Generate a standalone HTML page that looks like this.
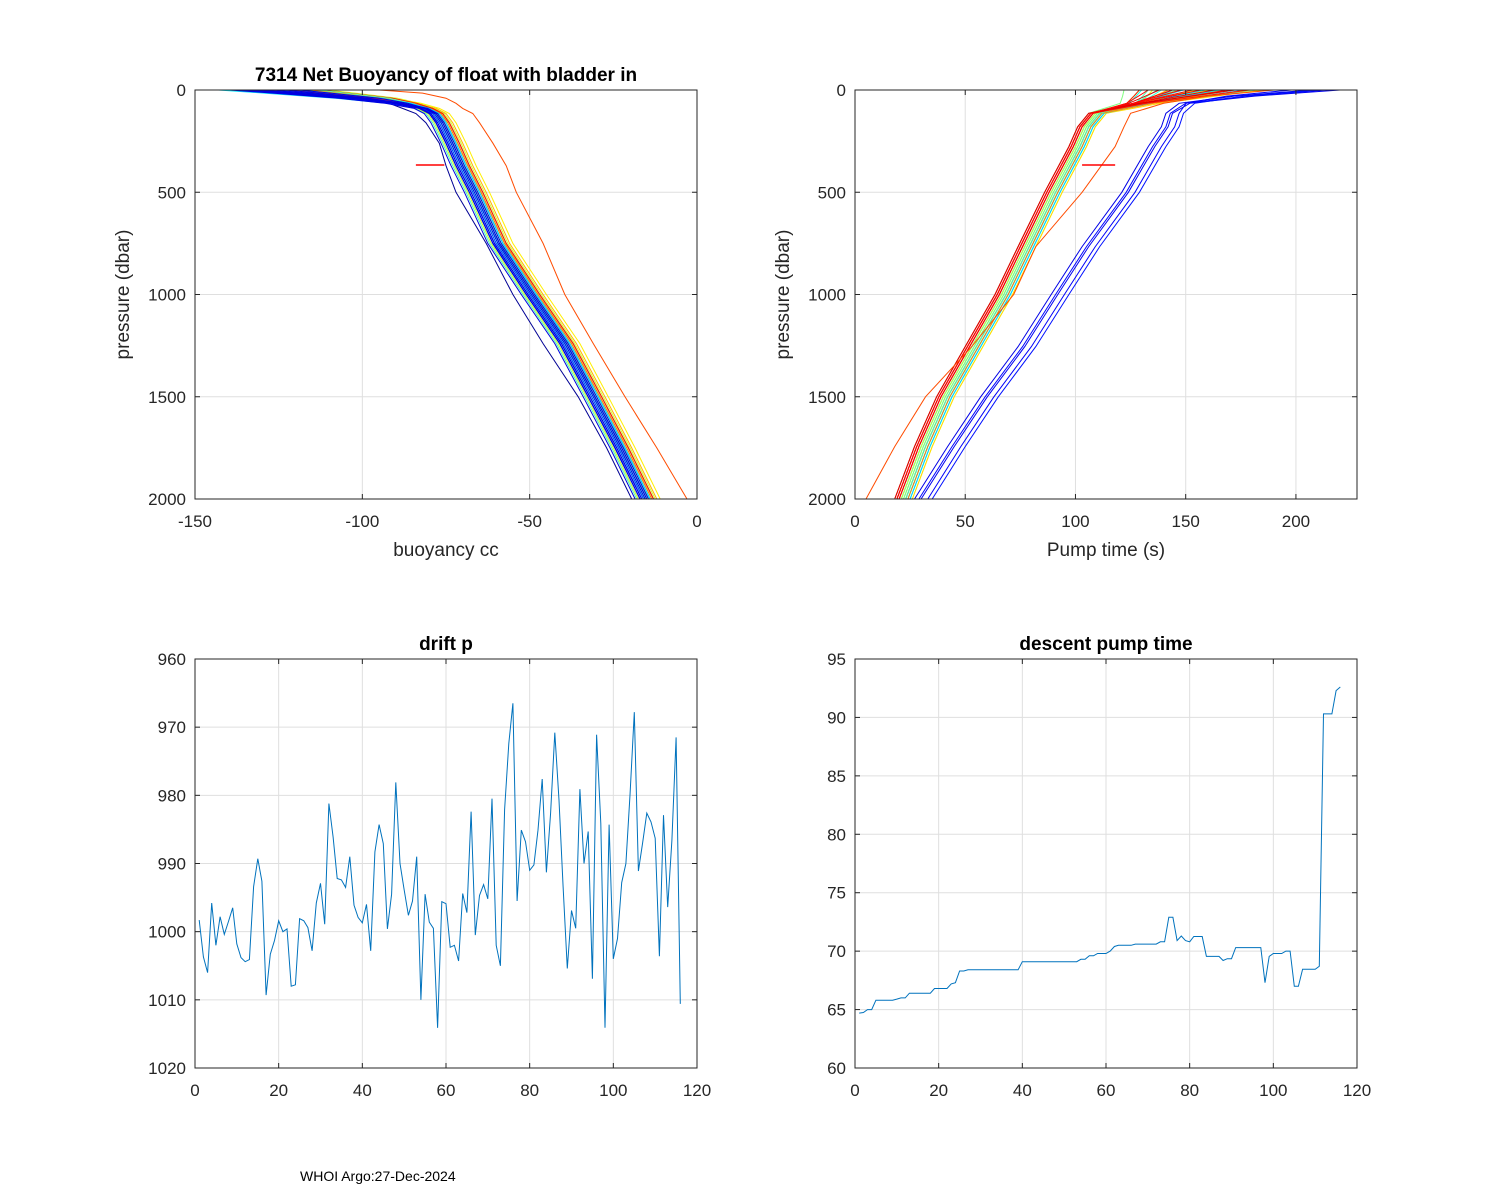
<!DOCTYPE html>
<html><head><meta charset="utf-8"><style>
html,body{margin:0;padding:0;background:#fff;}
svg{display:block;font-family:"Liberation Sans",Arial,sans-serif;}
</style></head><body>
<svg id="fig" width="1500" height="1200" viewBox="0 0 1500 1200">
<rect x="0" y="0" width="1500" height="1200" fill="#fff"/>
</svg>
<script>
// ---------- data: drift p ----------
const driftCycles = Array.from({length:116},(_, i)=>i+1);
const driftP = [998.3,1003.7,1006.0,995.8,1002,997.8,1000.4,998.5,996.5,1001.8,1003.8,1004.4,1004.1,993.4,989.3,992.6,1009.3,1003.3,1001.3,998.4,1000,999.6,1008,1007.8,998.1,998.4,999.4,1002.8,995.8,992.9,998.9,981.2,986.1,992.2,992.4,993.5,989,996.1,997.9,998.7,996,1002.8,988.3,984.3,987.1,999.6,994.5,978.1,990,993.9,997.6,995.5,989,1010,994.5,998.6,999.5,1014.1,995.6,995.9,1002.3,1002,1004.3,994.4,997.2,982.4,1000.5,994.7,993.1,995.2,980.5,1002,1005,982.1,972.4,966.5,995.5,985.1,986.8,991,990.2,985.1,977.6,991.3,982.6,970.8,980.7,993.4,1005.4,996.9,999.5,979.1,990,985.3,1006.9,971.1,984.1,1014.1,984.3,1004,1001,992.8,990,979.7,967.8,991.1,987,982.6,983.9,986.3,1003.6,982.9,996.4,986.6,971.5,1010.6];
// ---------- data: descent pump time ----------
const pumpTime = [64.7,64.75,65,65,65.8,65.8,65.8,65.8,65.8,65.9,66,66,66.4,66.4,66.4,66.4,66.4,66.4,66.8,66.8,66.8,66.8,67.2,67.3,68.3,68.3,68.4,68.4,68.4,68.4,68.4,68.4,68.4,68.4,68.4,68.4,68.4,68.4,68.4,69.1,69.1,69.1,69.1,69.1,69.1,69.1,69.1,69.1,69.1,69.1,69.1,69.1,69.1,69.3,69.3,69.6,69.6,69.8,69.8,69.8,70,70.4,70.5,70.5,70.5,70.5,70.6,70.6,70.6,70.6,70.6,70.6,70.8,70.8,72.9,72.9,70.9,71.3,70.9,70.8,71.25,71.25,71.25,69.55,69.55,69.55,69.55,69.2,69.35,69.35,70.3,70.3,70.3,70.3,70.3,70.3,70.3,67.3,69.55,69.8,69.8,69.8,70,70,67,67,68.45,68.45,68.45,68.45,68.7,90.3,90.3,90.3,92.3,92.6];
// ---------- data: buoyancy profiles ----------
const profP = [0,15,40,65,90,115,160,260,370,500,750,1000,1240,1500,1750,2000];
const buoyBase = [-112,-104,-92,-86,-82,-79,-77,-74,-71,-67,-60,-50,-40,-31.5,-23.5,-16];
const buoyNavy = [-130,-118,-100,-92,-88,-84,-81,-77,-75,-72,-63,-55,-46,-35.5,-27,-19.5];
const buoyOrange = [-95,-82,-75,-72,-70,-67,-65,-61,-57,-54,-46,-39.5,-31,-21.5,-12,-3];
const buoyOffset = [0,-1.5,-2,-1,-0.5,0,0.5,-1,1,1.5,-0.5,0,2,1,-1.5,0.5,2.5,1.5,0,-1,3,2,1,0.5,2.5,3,1.5,4,2,3.5,5,2,3,1,1.5,2.5,0,3,1.5,2];
const buoySurf = [-20,-25,-10,-30,-5,-15,-22,0,-28,-12,-8,-18,-3,-26,-14,-6,-20,-10,-2,-24,-16,-8,-12,-4,-18,-6,-22,-10,-14,-2,-8,-16,-4,-12,-20,-6,-10,-14,-3,-9];
const buoyColor = [0.05,0.3,0.45,0.35,0.2,0.5,0.4,0.25,0.55,0.32,0.15,0.48,0.38,0.28,0.6,0.42,0.22,0.52,0.36,0.12,0.62,0.46,0.3,0.4,0.66,0.34,0.5,0.7,0.44,0.58,0.64,0.26,0.88,0.38,0.54,0.75,0.18,0.85,0.47,0.33];
// ---------- data: pump time profiles ----------
const pumpP = [0,30,65,114,180,277,500,766,1000,1255,1500,1744,2000];
const pumpBase = [150,140,128,109,104,100,89,77,66.5,53,40,30,21];
const pumpBlue = [210,175,150,144,142,136,124,106,92,77,60,45,30];
const pumpOrange = [190,160,140,125,122,118,103,82,72,53,32,18,5];
const pumpOffset = [0,3,-2,2,-3,0,4,1,-1,5,2,3,0,1,4,2,-1,3,5,2,1,3,0,2,4,1,3,2,0,-1,-2,-1,-2,-3,-1,-2,-2,-1,-3,-2];
const pumpSurf = [10,-20,25,5,-25,15,-10,30,0,-20,20,-5,35,10,-15,25,-20,5,30,-10,15,0,-20,20,10,-5,25,-15,5,30,0,20,-10,10,-20,15,5,-5,25,-15];
const pumpColor = [0.3,0.45,0.35,0.2,0.5,0.4,0.25,0.55,0.32,0.6,0.48,0.38,0.28,0.62,0.42,0.22,0.52,0.36,0.66,0.7,0.46,0.3,0.4,0.72,0.34,0.5,0.74,0.44,0.58,0.85,0.88,0.86,0.9,0.87,0.84,0.89,0.86,0.88,0.91,0.87];
const pumpBlueOffset = [0,3,6,2,8];
const pumpBlueSurf = [0,10,-15,5,-5];

const NS="http://www.w3.org/2000/svg";
const svg=document.getElementById('fig');
function el(tag,attrs,parent){const e=document.createElementNS(NS,tag);for(const k in attrs)e.setAttribute(k,attrs[k]);(parent||svg).appendChild(e);return e;}
function jet(t){
  function c(x){return Math.max(0,Math.min(1,x));}
  const r=c(1.5-Math.abs(4*t-3)),g=c(1.5-Math.abs(4*t-2)),b=c(1.5-Math.abs(4*t-1));
  return `rgb(${Math.round(r*255)},${Math.round(g*255)},${Math.round(b*255)})`;
}
function makeAxes(o){
  const g=el('g',{});
  
  
  const sx=v=>o.x0+(v-o.xmin)/(o.xmax-o.xmin)*(o.x1-o.x0);
  const sy=o.yrev?(v=>o.y0+(v-o.ymin)/(o.ymax-o.ymin)*(o.y1-o.y0)):(v=>o.y1-(v-o.ymin)/(o.ymax-o.ymin)*(o.y1-o.y0));
  const grid=el('g',{stroke:'#dfdfdf','stroke-width':1},g);
  
  
  o.xticks.forEach(t=>{const x=sx(t);el('line',{x1:x,x2:x,y1:o.y0,y2:o.y1},grid);});
  o.yticks.forEach(t=>{const y=sy(t);el('line',{x1:o.x0,x2:o.x1,y1:y,y2:y},grid);});
  return {g,sx,sy};
}
function finishAxes(o,ax){
  const g=ax.g;
  const fr=el('g',{stroke:'#262626','stroke-width':1,fill:'none'},g);
  
  
  el('rect',{x:o.x0,y:o.y0,width:o.x1-o.x0,height:o.y1-o.y0},fr);
  o.xticks.forEach(t=>{const x=ax.sx(t);el('line',{x1:x,x2:x,y1:o.y1,y2:o.y1-5},fr);el('line',{x1:x,x2:x,y1:o.y0,y2:o.y0+5},fr);
    const tx=el('text',{x:x,y:o.y1+28,'text-anchor':'middle','font-size':17,fill:'#262626',stroke:'none'},g);tx.textContent=t;
    });
  o.yticks.forEach(t=>{const y=ax.sy(t);el('line',{x1:o.x0,x2:o.x0+5,y1:y,y2:y},fr);el('line',{x1:o.x1,x2:o.x1-5,y1:y,y2:y},fr);
    const tx=el('text',{x:o.x0-9,y:y+6,'text-anchor':'end','font-size':17,fill:'#262626',stroke:'none'},g);tx.textContent=t;
    });
  if(o.title){const t=el('text',{x:(o.x0+o.x1)/2,y:o.y0-9,'text-anchor':'middle','font-size':19,'font-weight':'bold',fill:'#000'},g);t.textContent=o.title;
    }
  if(o.xlabel){const t=el('text',{x:(o.x0+o.x1)/2,y:o.y1+57,'text-anchor':'middle','font-size':19,fill:'#262626'},g);t.textContent=o.xlabel;
    }
  if(o.ylabel){const cx=o.x0-66,cy=(o.y0+o.y1)/2;const t=el('text',{x:cx,y:cy,'text-anchor':'middle','font-size':19,fill:'#262626',transform:`rotate(-90 ${cx} ${cy})`},g);t.textContent=o.ylabel;
    }
}
function surfW(p){return p>=80?0:(1-p/80);}
function drawProfile(ax,parent,P,X,off,surf,color,name,clipId){
  const pts=P.map((p,i)=>`${ax.sx(X[i]+off+surf*surfW(p)).toFixed(1)},${ax.sy(p).toFixed(1)}`).join(' ');
  const pl=el('polyline',{points:pts,fill:'none',stroke:color,'stroke-width':1,'clip-path':`url(#${clipId})`},parent);
  
  
}
const defs=el('defs',{});
function clip(id,x0,y0,x1,y1){const c=el('clipPath',{id},defs);el('rect',{x:x0,y:y0,width:x1-x0,height:y1-y0},c);}

// ---- Top-left: buoyancy ----
const o1={name:'buoyancy-chart',x0:195,x1:697,y0:90,y1:499,xmin:-150,xmax:0,ymin:0,ymax:2000,yrev:true,
  xticks:[-150,-100,-50,0],yticks:[0,500,1000,1500,2000],title:'7314 Net Buoyancy of float with bladder in',xlabel:'buoyancy cc',ylabel:'pressure (dbar)'};
const a1=makeAxes(o1);clip('c1',195,90,697,499);
const l1=el('g',{},a1.g);


const nB=buoyOffset.length;
for(let i=0;i<nB;i++){
  if(i===0){drawProfile(a1,l1,profP,buoyNavy,0,0,jet(0.02),'profile-line','c1');continue;}
  drawProfile(a1,l1,profP,buoyBase,buoyOffset[i],buoySurf[i],jet(buoyColor[i]),'profile-line','c1');
}
drawProfile(a1,l1,profP,buoyOrange,0,0,jet(0.8),'outlier-profile','c1');
for(let i=1;i<nB;i+=5){drawProfile(a1,l1,profP,buoyBase,buoyOffset[i]-1,buoySurf[i],'#0000e0','profile-line','c1');}
{const m=el('line',{x1:a1.sx(-84),x2:a1.sx(-75.5),y1:a1.sy(367),y2:a1.sy(367),stroke:'#ff0000','stroke-width':1.5},l1);
 }
finishAxes(o1,a1);

// ---- Top-right: pump time ----
const o2={name:'pump-time-chart',x0:855,x1:1357,y0:90,y1:499,xmin:0,xmax:227.7,ymin:0,ymax:2000,yrev:true,
  xticks:[0,50,100,150,200],yticks:[0,500,1000,1500,2000],xlabel:'Pump time (s)',ylabel:'pressure (dbar)'};
const a2=makeAxes(o2);clip('c2',855,90,1357,499);
const l2=el('g',{},a2.g);


for(let i=0;i<pumpBlueOffset.length;i++){drawProfile(a2,l2,pumpP,pumpBlue,pumpBlueOffset[i]-3,pumpBlueSurf[i],jet(0.1+i*0.01),'early-profile','c2');}
const nP=pumpOffset.length;
for(let i=0;i<nP;i++){drawProfile(a2,l2,pumpP,pumpBase,pumpOffset[i],pumpSurf[i],jet(pumpColor[i]),'profile-line','c2');}
drawProfile(a2,l2,pumpP,pumpOrange,0,0,jet(0.8),'outlier-profile','c2');
{const m=el('line',{x1:a2.sx(103),x2:a2.sx(118),y1:a2.sy(367),y2:a2.sy(367),stroke:'#ff0000','stroke-width':1.5},l2);
 }
finishAxes(o2,a2);

// ---- Bottom-left: drift p ----
const o3={name:'drift-p-chart',x0:195,x1:697,y0:659,y1:1068,xmin:0,xmax:120,ymin:960,ymax:1020,yrev:true,
  xticks:[0,20,40,60,80,100,120],yticks:[960,970,980,990,1000,1010,1020],title:'drift p'};
const a3=makeAxes(o3);
{const pl=el('polyline',{points:driftP.map((v,i)=>`${a3.sx(driftCycles[i]).toFixed(1)},${a3.sy(v).toFixed(1)}`).join(' '),fill:'none',stroke:'#0072bd','stroke-width':1},a3.g);
 }
finishAxes(o3,a3);

// ---- Bottom-right: descent pump time ----
const o4={name:'descent-pump-chart',x0:855,x1:1357,y0:659,y1:1068,xmin:0,xmax:120,ymin:60,ymax:95,yrev:false,
  xticks:[0,20,40,60,80,100,120],yticks:[60,65,70,75,80,85,90,95],title:'descent pump time'};
const a4=makeAxes(o4);
{const pl=el('polyline',{points:pumpTime.map((v,i)=>`${a4.sx(driftCycles[i]).toFixed(1)},${a4.sy(v).toFixed(1)}`).join(' '),fill:'none',stroke:'#0072bd','stroke-width':1},a4.g);
 }
finishAxes(o4,a4);

{const t=el('text',{x:300,y:1181,'font-size':14,fill:'#000'});t.textContent='WHOI Argo:27-Dec-2024';
 }
</script>
</body></html>
